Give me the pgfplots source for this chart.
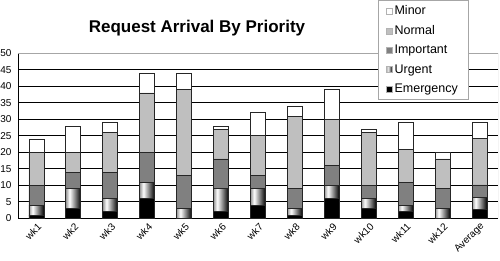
\documentclass[border=0pt]{standalone}
\usepackage{fontspec}
\setmainfont{Liberation Sans}
\usepackage{pgfplots}
\pgfplotsset{compat=1.18}
\pgfdeclarehorizontalshading{urg}{100bp}{color(0bp)=(black!40); color(25bp)=(black!40); color(37bp)=(white); color(75bp)=(black); color(100bp)=(black)}
\begin{document}
\begin{tikzpicture}
\begin{axis}[
  at={(18pt,41.7pt)}, anchor=south west,
  scale only axis, width=480pt, height=165pt,
  ybar stacked, bar width=15pt,
  xmin=-0.5, xmax=12.5, ymin=0, ymax=50,
  xtick={0,...,12},
  xticklabels={wk1,wk2,wk3,wk4,wk5,wk6,wk7,wk8,wk9,wk10,wk11,wk12,Average},
  ytick={0,5,...,45}, extra y ticks={50},
  extra y tick style={grid style={draw=gray!70, line width=0.8pt}},
  ymajorgrids, grid style={draw=black, line width=0.8pt},
  axis lines*=left,
  axis line style={line width=0.8pt, black},
  major tick length=0pt,
  tick label style={font=\fontsize{10}{12}\selectfont},
  /pgf/number format/assume math mode=true,
  xticklabel style={rotate=45, anchor=east, yshift=-7pt, xshift=1pt},
  yticklabel style={xshift=-3pt},
  legend style={at={(0.9375,1.323)}, anchor=north east, draw=gray!70,
    font=\fontsize{12.5}{15}\selectfont, row sep=5.2pt, inner xsep=8pt, inner ysep=3.5pt},
  reverse legend, legend cell align=left,
  legend image code/.code={\path[#1, draw=gray!60, line width=0.4pt] (0pt,-3pt) rectangle (6pt,3pt);},
]
\addplot[fill=black, draw=black!85, line width=0.8pt] coordinates
 {(0,1) (1,3) (2,2) (3,6) (4,0) (5,2) (6,4) (7,1) (8,6) (9,3) (10,2) (11,0) (12,2.7)};
\addplot[shade, shading=urg, draw=black!85, line width=0.8pt,
  nodes near coords={}, visualization depends on={rawy \as \ry},
  every node near coord/.append style={anchor=center, inner sep=0pt, outer sep=0pt,
    minimum width=15pt, minimum height=\ry*3.3pt, shade, shading=urg,
    draw=black!85, line width=0.8pt}] coordinates
 {(0,3) (1,6) (2,4) (3,5) (4,3) (5,7) (6,5) (7,2) (8,4) (9,3) (10,2) (11,3) (12,3.7)};
\addplot[fill=black!50, draw=black!85, line width=0.8pt] coordinates
 {(0,6) (1,5) (2,8) (3,9) (4,10) (5,9) (6,4) (7,6) (8,6) (9,4) (10,7) (11,6) (12,3.7)};
\addplot[fill=black!25, draw=black!85, line width=0.8pt] coordinates
 {(0,10) (1,6) (2,12) (3,18) (4,26) (5,9) (6,12) (7,22) (8,14) (9,16) (10,10) (11,9) (12,14)};
\addplot[fill=white, draw=black!85, line width=0.8pt] coordinates
 {(0,4) (1,8) (2,3) (3,6) (4,5) (5,1) (6,7) (7,3) (8,9) (9,1) (10,8) (11,2) (12,5)};
\legend{Emergency,Urgent,Important,Normal,Minor}
\draw[gray!70, line width=0.8pt] (rel axis cs:1,0) -- (rel axis cs:1,1);
\end{axis}
\node[anchor=base, font=\bfseries\fontsize{17}{20}\selectfont] at (197pt,227pt) {Request Arrival By Priority};
\pgfresetboundingbox
\useasboundingbox (0,0) rectangle (500pt,260pt);
\end{tikzpicture}
\end{document}
